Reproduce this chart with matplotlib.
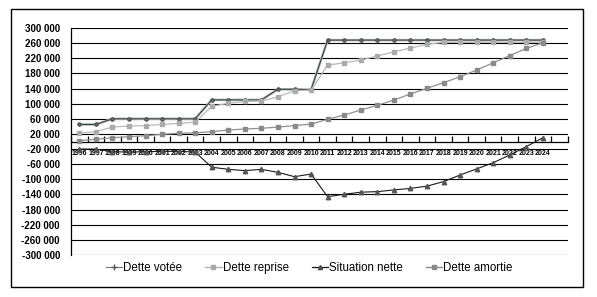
import matplotlib
matplotlib.use("Agg")
import matplotlib.pyplot as plt
from matplotlib.lines import Line2D
from matplotlib.patches import Rectangle
from matplotlib.ticker import FuncFormatter, FixedLocator

years = [str(y) for y in range(1996, 2025)]

dette_votee = [45000, 45000, 60000, 60000, 60000, 60000, 60000, 60000,
               110000, 110000, 110000, 110000, 138000, 138000, 137000,
               268000, 268000, 268000, 268000, 268000, 268000, 268000,
               268000, 268000, 268000, 268000, 268000, 268000, 268000]
dette_reprise = [22000, 26000, 38000, 41000, 42000, 45000, 48000, 51000,
                 93000, 101000, 106000, 107000, 118000, 134000, 136000,
                 202000, 208000, 215000, 226000, 237000, 247000, 257000,
                 262000, 262000, 262000, 262000, 262000, 262000, 263000]
situation_nette = [-20000, -20000, -27000, -28000, -27000, -26000, -26000, -28000,
                   -68000, -73500, -77000, -73500, -81500, -93000, -86000,
                   -146000, -139500, -134000, -132500, -128000, -124000, -118000,
                   -106000, -88500, -72500, -56000, -35500, -13500, 10000]
dette_amortie = [2000, 6000, 10000, 12700, 15300, 19000, 21700, 23000,
                 26000, 30400, 33000, 35000, 38000, 42000, 46000,
                 58700, 70000, 83000, 95700, 109700, 125600, 140600,
                 155500, 171000, 189000, 208000, 227000, 246000, 261000]

plt.rcParams['font.family'] = ['Liberation Sans', 'DejaVu Sans']

fig = plt.figure(figsize=(5.97, 2.97), dpi=100)
ax = fig.add_axes([71 / 597, 1 - 255 / 297, (567.7 - 71) / 597, 227 / 297])

x = list(range(len(years)))
ax.plot(x, dette_votee, color='#a8b4b4', lw=1.8, zorder=2)
ax.plot(x, dette_votee, color='#3a3a3a', lw=0.7, marker='o', ms=2.6,
        mfc='#666666', mec='#444444', mew=0.6, zorder=3, label='Dette votée')
ax.plot(x, dette_reprise, color='#b8b8b8', lw=0.9, marker='s', ms=3.2,
        mfc='#ababab', mec='#ababab', zorder=3, label='Dette reprise')
ax.plot(x, situation_nette, color='#1a1a1a', lw=0.8, marker='^', ms=3.2,
        mfc='#555555', mec='#555555', zorder=3, label='Situation nette')
ax.plot(x, dette_amortie, color='#909090', lw=0.9, marker='s', ms=3.2,
        mfc='#8a8a8a', mec='#8a8a8a', zorder=3, label='Dette amortie')

ax.set_xlim(-0.5, 29.5)
ax.set_ylim(-300000, 300000)
ax.yaxis.set_major_locator(FixedLocator(range(-300000, 300001, 40000)))
ax.yaxis.set_major_formatter(FuncFormatter(
    lambda v, p: ('-' if v < 0 else '') + f"{abs(int(v)):,}".replace(',', ' ')))
ax.grid(axis='y', color='black', lw=0.8)
ax.tick_params(axis='y', length=0, pad=8, labelsize=7)
for lab in ax.get_yticklabels():
    lab.set_fontweight('bold')

ax.spines['bottom'].set_position(('data', 0))
ax.spines['top'].set_visible(False)
ax.spines['right'].set_visible(False)
ax.spines['left'].set_linewidth(0.9)
ax.spines['bottom'].set_linewidth(0.9)

ax.set_xticks([i - 0.5 for i in range(31)])
ax.set_xticklabels([])
ax.tick_params(axis='x', which='major', direction='in', length=4, width=0.9)
ax.set_xticks(x, minor=True)
ax.set_xticklabels(years, minor=True, fontsize=5, fontweight='bold')
ax.tick_params(axis='x', which='minor', length=0, pad=6)

handles = [
    Line2D([], [], color='#777777', lw=0.8, marker='+', ms=4, mec='#555555'),
    Line2D([], [], color='#b4b4b4', lw=1, marker='s', ms=3, mfc='#a9a9a9', mec='#a9a9a9'),
    Line2D([], [], color='#1a1a1a', lw=0.9, marker='^', ms=3, mfc='#4d4d4d', mec='#4d4d4d'),
    Line2D([], [], color='#8c8c8c', lw=1, marker='s', ms=3, mfc='#8a8a8a', mec='#8a8a8a'),
]
fig.legend(handles, ['Dette votée', 'Dette reprise', 'Situation nette', 'Dette amortie'],
           loc='center', bbox_to_anchor=(0.518, 0.097), ncol=4, frameon=False,
           fontsize=8.3, handlelength=1.4, handletextpad=0.1, columnspacing=2.0)

fig.add_artist(Rectangle((11 / 597, 1 - 287 / 297), 572 / 597, 278 / 297,
                         transform=fig.transFigure, fill=False, ec='black', lw=1))

fig.savefig('out.png', dpi=100)
